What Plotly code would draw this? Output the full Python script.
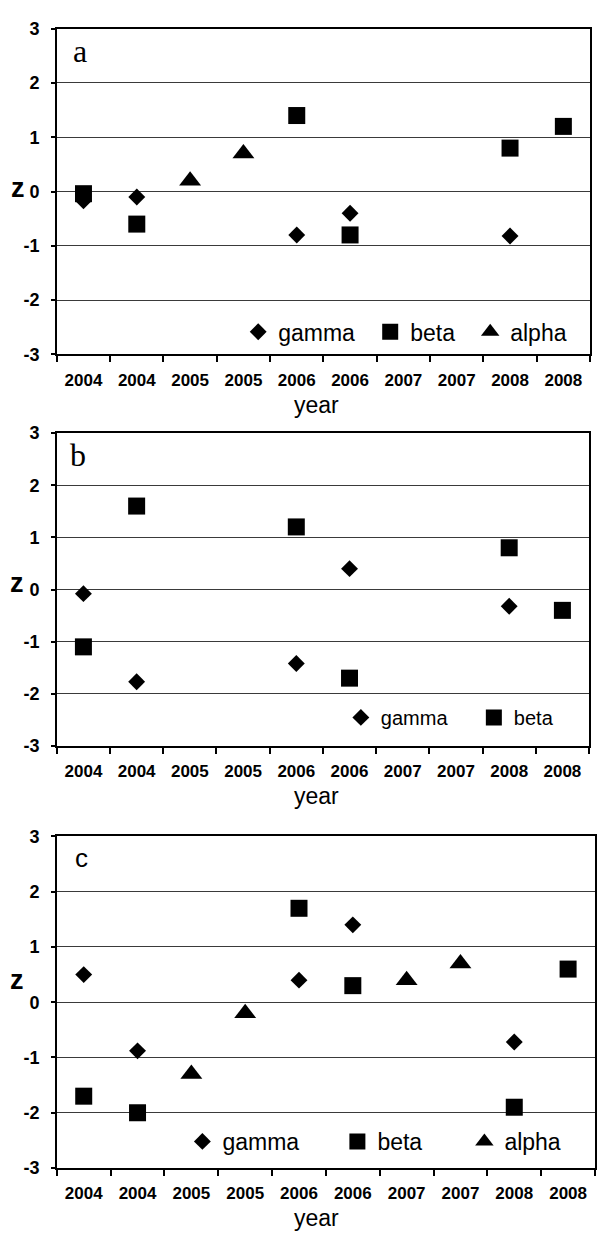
import plotly.graph_objects as go

categories = ["2004", "2004", "2005", "2005", "2006", "2006", "2007", "2007", "2008", "2008"]

a_gamma = [-0.17, -0.1, None, None, -0.8, -0.4, None, None, -0.82, None]
a_beta = [-0.04, -0.6, None, None, 1.4, -0.8, None, None, 0.8, 1.2]
a_alpha = [None, None, 0.2, 0.7, None, None, None, None, None, None]

b_gamma = [-0.08, -1.77, None, None, -1.42, 0.4, None, None, -0.32, None]
b_beta = [-1.1, 1.6, None, None, 1.2, -1.7, None, None, 0.8, -0.4]

c_gamma = [0.5, -0.88, None, None, 0.4, 1.4, None, None, -0.72, None]
c_beta = [-1.7, -2.0, None, None, 1.7, 0.3, None, None, -1.9, 0.6]
c_alpha = [None, None, -1.3, -0.2, None, None, 0.4, 0.7, None, None]

panel_letters = ["a", "b", "c"]
y_ticks = [-3, -2, -1, 0, 1, 2, 3]

W, H = 597, 1240
xpos = list(range(len(categories)))

SANS = "Liberation Sans, Arial, sans-serif"
SERIF = "Liberation Serif, Times New Roman, serif"

# pixel layout (top, bottom, left, right) of each plot area
boxes = [(19, 350, 57, 592), (430, 748, 57, 591), (840, 1177, 57, 597)]

fig = go.Figure()

panels = [
    [("gamma", a_gamma, "diamond", 13, 87), ("beta", a_beta, "square", 17, 55), ("alpha", a_alpha, "triangle-up", 19, None)],
    [("gamma", b_gamma, "diamond", 13, 88), ("beta", b_beta, "square", 17, None)],
    [("gamma", c_gamma, "diamond", 13, 110), ("beta", c_beta, "square", 17, 82), ("alpha", c_alpha, "triangle-up", 19, None)],
]
legend_names = ["legend", "legend2", "legend3"]

for p, series in enumerate(panels):
    xa = "x" if p == 0 else f"x{p+1}"
    ya = "y" if p == 0 else f"y{p+1}"
    for name, vals, sym, sz, lw in series:
        kw = {}
        if lw is not None:
            kw["legendwidth"] = lw
        fig.add_trace(go.Scatter(
            x=xpos, y=vals, mode="markers", name=name,
            marker=dict(symbol=sym, size=sz, color="black", line=dict(width=0)),
            xaxis=xa, yaxis=ya, legend=legend_names[p], cliponaxis=False, **kw))

layout = dict(
    width=W, height=H, autosize=False,
    margin=dict(l=0, r=0, t=0, b=0),
    paper_bgcolor="white", plot_bgcolor="white",
    showlegend=True,
    font=dict(family=SANS, color="black"),
)

legend_font = [23, 20, 23]
legend_px = [(239, 327), (342, 719), (183, 1150)]

annotations = []
for p, (top, bot, left, right) in enumerate(boxes):
    sfx = "" if p == 0 else str(p + 1)
    layout["xaxis" + sfx] = dict(
        domain=[left / W, right / W], range=[-0.5, len(categories) - 0.5],
        anchor="y" + sfx, tickmode="array", tickvals=xpos, ticktext=categories,
        ticks="", showgrid=False, zeroline=False,
        showline=True, linecolor="black", linewidth=1.5, mirror=True,
        tickfont=dict(family=SANS, size=17, color="black", weight="bold"),
        ticklabelstandoff=9,
        minor=dict(tickmode="linear", tick0=-0.5, dtick=1, ticks="outside",
                   ticklen=6, tickcolor="black", tickwidth=1.5, showgrid=False),
        fixedrange=True,
    )
    layout["yaxis" + sfx] = dict(
        domain=[1 - bot / H, 1 - top / H], range=[-3, 3],
        anchor="x" + sfx, tickmode="array", tickvals=y_ticks,
        ticktext=[str(t) for t in y_ticks],
        ticks="outside", ticklen=4, tickcolor="black", tickwidth=1.5,
        showgrid=True, gridcolor="#3a3a3a", gridwidth=1.2, zeroline=False,
        showline=True, linecolor="black", linewidth=1.5, mirror=True,
        tickfont=dict(family=SANS, size=18, color="black", weight="bold"),
        ticklabelstandoff=8,
        fixedrange=True,
    )
    lx, ly = legend_px[p]
    layout[legend_names[p]] = dict(
        orientation="h", x=lx / W, y=1 - ly / H, xanchor="left", yanchor="middle",
        bgcolor="rgba(0,0,0,0)", borderwidth=0,
        font=dict(family=SANS, size=legend_font[p], color="black"),
        itemsizing="trace", itemclick=False, itemdoubleclick=False,
    )

# panel letters
letter_pos = [(80, 42, SERIF, 32), (78, 452, SERIF, 32), (82, 862, SANS, 26)]
for (x, y, fam, sz), letter in zip(letter_pos, panel_letters):
    annotations.append(dict(text=letter, x=x / W, y=1 - y / H, xref="paper", yref="paper",
                            showarrow=False, xanchor="center", yanchor="middle",
                            font=dict(family=fam, size=sz, color="black")))

# "z" labels
z_pos = [(18, 181), (17, 582), (17, 986)]
for x, y in z_pos:
    annotations.append(dict(text="z", x=x / W, y=1 - y / H, xref="paper", yref="paper",
                            showarrow=False, xanchor="center", yanchor="middle",
                            font=dict(family=SANS, size=27, color="black", weight="bold")))

# "year" titles
year_pos = [(318, 401), (318, 799), (318, 1228)]
for x, y in year_pos:
    annotations.append(dict(text="year", x=x / W, y=1 - y / H, xref="paper", yref="paper",
                            showarrow=False, xanchor="center", yanchor="middle",
                            font=dict(family=SANS, size=23, color="black")))

layout["annotations"] = annotations
fig.update_layout(**layout)

fig.write_html("out.html", config={"displayModeBar": False})
